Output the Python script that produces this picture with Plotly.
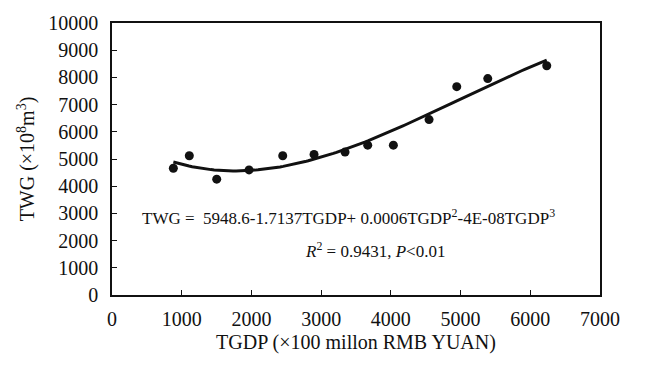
import numpy as np
import plotly.graph_objects as go

tgdp = [880, 1109, 1502, 1966, 2449, 2898, 3343, 3668, 4036, 4548, 4945, 5390, 6236]
twg = [4660, 5120, 4260, 4600, 5120, 5170, 5255, 5510, 5510, 6450, 7660, 7955, 8430]

coef = np.polyfit(tgdp, twg, 3)
xf = np.linspace(min(tgdp), max(tgdp), 120)
yf = np.polyval(coef, xf)

font = "Liberation Serif"
fig = go.Figure()
fig.add_trace(go.Scatter(x=xf, y=yf, mode="lines", line=dict(color="#111", width=3), showlegend=False))
fig.add_trace(go.Scatter(x=tgdp, y=twg, mode="markers", marker=dict(color="#111", size=9), showlegend=False))

axis_common = dict(showgrid=False, zeroline=False, showline=True, linecolor="#111", linewidth=1.5,
                   mirror=True, ticks="inside", ticklen=5, tickcolor="#111", tickwidth=1,
                   tickformat="d",
                   tickfont=dict(family=font, size=20, color="#111"))
fig.update_xaxes(range=[0, 7000], dtick=1000, ticklabelstandoff=5,
                 title=dict(text="TGDP (×100 millon RMB YUAN)", font=dict(family=font, size=20, color="#111"), standoff=6),
                 **axis_common)
fig.update_yaxes(range=[0, 10000], dtick=1000, ticklabelstandoff=8,
                 title=dict(text="TWG (×10<sup>8</sup>m<sup>3</sup>)", font=dict(family=font, size=20, color="#111"), standoff=8),
                 **axis_common)

fig.add_annotation(xref="x", yref="y", x=(348 - 112) / 488 * 7000, y=(295 - 216) / 274 * 10000,
                   text="TWG =  5948.6-1.7137TGDP+ 0.0006TGDP<sup>2</sup>-4E-08TGDP<sup>3</sup>",
                   showarrow=False, font=dict(family=font, size=17, color="#111"))
fig.add_annotation(xref="x", yref="y", x=(375 - 112) / 488 * 7000, y=(295 - 250) / 274 * 10000,
                   text="<i>R</i><sup>2</sup> = 0.9431, <i>P</i>&lt;0.01",
                   showarrow=False, font=dict(family=font, size=17, color="#111"))

fig.update_layout(width=665, height=365, margin=dict(l=112, r=65, t=21, b=70),
                  plot_bgcolor="white", paper_bgcolor="white")
fig.write_html("out.html")
